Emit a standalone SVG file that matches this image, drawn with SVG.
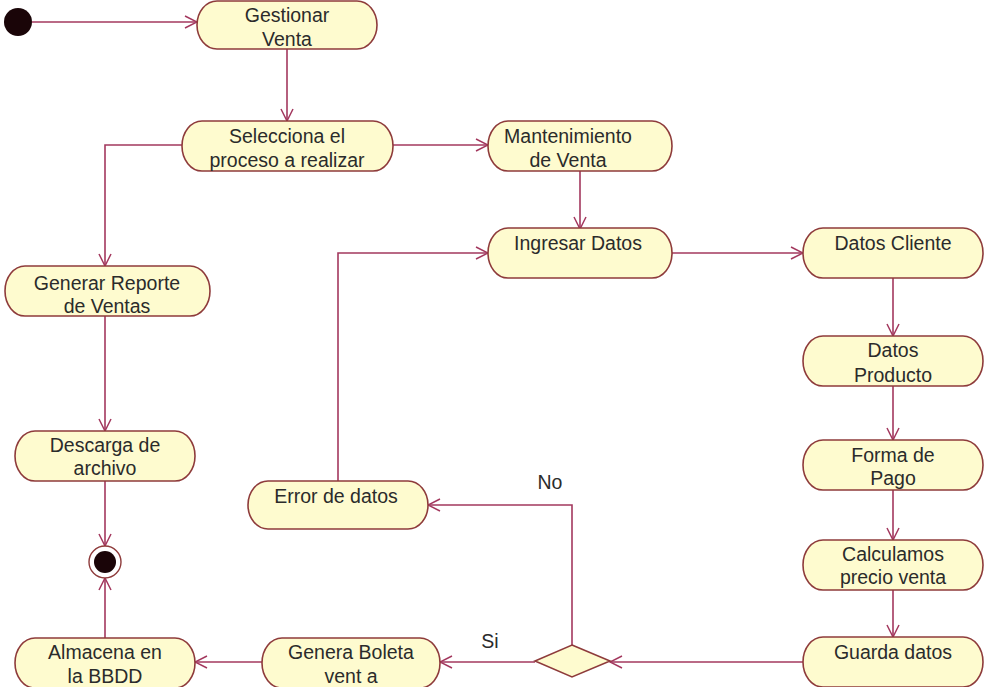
<svg xmlns="http://www.w3.org/2000/svg" width="985" height="687" viewBox="0 0 985 687">
  <style>
    .act { fill: #fefbcf; stroke: #8e3b3b; stroke-width: 1.6; }
    .lbl { font-family: "Liberation Sans", Arial, sans-serif; font-size: 19.5px; fill: #2b2b2b; text-anchor: middle; }
    .flow { fill: none; stroke: #a3385e; stroke-width: 1.6; }
  </style>
  <defs>
    <marker id="open" markerUnits="userSpaceOnUse" markerWidth="14" markerHeight="14" viewBox="0 0 14 14" refX="13" refY="7" orient="auto">
      <path d="M1,1 L13,7 L1,13" fill="none" stroke="#a3385e" stroke-width="1.5"/>
    </marker>
  </defs>
  <rect width="985" height="687" fill="#ffffff"/>

  <!-- transitions -->
  <g id="connectors">
    <path class="flow" d="M32,22 L197,22" marker-end="url(#open)"/>
    <path class="flow" d="M287,49 L287,121" marker-end="url(#open)"/>
    <path class="flow" d="M182,145 L105,145 L105,266" marker-end="url(#open)"/>
    <path class="flow" d="M393,145 L488,145" marker-end="url(#open)"/>
    <path class="flow" d="M580,171 L580,229" marker-end="url(#open)"/>
    <path class="flow" d="M672,253 L803,253" marker-end="url(#open)"/>
    <path class="flow" d="M893,278 L893,336" marker-end="url(#open)"/>
    <path class="flow" d="M893,386 L893,440" marker-end="url(#open)"/>
    <path class="flow" d="M893,490 L893,540" marker-end="url(#open)"/>
    <path class="flow" d="M893,590 L893,637" marker-end="url(#open)"/>
    <path class="flow" d="M803,662 L610,662" marker-end="url(#open)"/>
    <path class="flow" d="M572,645 L572,505 L428,505" marker-end="url(#open)"/>
    <path class="flow" d="M535,662 L440,662" marker-end="url(#open)"/>
    <path class="flow" d="M262,662 L195,662" marker-end="url(#open)"/>
    <path class="flow" d="M105,638 L105,578" marker-end="url(#open)"/>
    <path class="flow" d="M105,481 L105,546" marker-end="url(#open)"/>
    <path class="flow" d="M105,316 L105,431" marker-end="url(#open)"/>
    <path class="flow" d="M338,481 L338,253 L488,253" marker-end="url(#open)"/>
    <text class="lbl" x="550" y="489">No</text>
    <text class="lbl" x="490" y="648">Si</text>
  </g>

  <g id="start">
    <circle cx="18" cy="22" r="14" fill="#1a0508"/>
  </g>

  <g id="gestionar-venta">
    <rect class="act" x="197" y="1" width="180" height="48" rx="20" ry="24"/>
    <text class="lbl" x="287" y="22">Gestionar</text>
    <text class="lbl" x="287" y="46">Venta</text>
  </g>

  <g id="selecciona-proceso">
    <rect class="act" x="182" y="121" width="211" height="50" rx="20" ry="25"/>
    <text class="lbl" x="287" y="143">Selecciona el</text>
    <text class="lbl" x="287" y="167">proceso a realizar</text>
  </g>

  <g id="mantenimiento-venta">
    <rect class="act" x="488" y="121" width="184" height="50" rx="20" ry="25"/>
    <text class="lbl" x="568" y="143">Mantenimiento</text>
    <text class="lbl" x="568" y="167">de Venta</text>
  </g>

  <g id="ingresar-datos">
    <rect class="act" x="488" y="228" width="184" height="50" rx="20" ry="25"/>
    <text class="lbl" x="578" y="250">Ingresar Datos</text>
  </g>

  <g id="datos-cliente">
    <rect class="act" x="803" y="228" width="180" height="50" rx="20" ry="25"/>
    <text class="lbl" x="893" y="250">Datos Cliente</text>
  </g>

  <g id="datos-producto">
    <rect class="act" x="803" y="336" width="180" height="50" rx="20" ry="25"/>
    <text class="lbl" x="893" y="357">Datos</text>
    <text class="lbl" x="893" y="382">Producto</text>
  </g>

  <g id="forma-pago">
    <rect class="act" x="803" y="440" width="180" height="50" rx="20" ry="25"/>
    <text class="lbl" x="893" y="462">Forma de</text>
    <text class="lbl" x="893" y="485">Pago</text>
  </g>

  <g id="calculamos-precio">
    <rect class="act" x="803" y="540" width="180" height="50" rx="20" ry="25"/>
    <text class="lbl" x="893" y="561">Calculamos</text>
    <text class="lbl" x="893" y="584">precio venta</text>
  </g>

  <g id="guarda-datos">
    <rect class="act" x="803" y="637" width="180" height="50" rx="20" ry="25"/>
    <text class="lbl" x="893" y="659">Guarda datos</text>
  </g>

  <g id="decision">
    <polygon class="act" points="572,645 610,661 572,677 535,661"/>
  </g>

  <g id="error-datos">
    <rect class="act" x="248" y="481" width="180" height="48" rx="20" ry="24"/>
    <text class="lbl" x="336" y="503">Error de datos</text>
  </g>

  <g id="genera-boleta">
    <rect class="act" x="262" y="638" width="178" height="50" rx="20" ry="25"/>
    <text class="lbl" x="351" y="659">Genera Boleta</text>
    <text class="lbl" x="351" y="683">vent a</text>
  </g>

  <g id="almacena-bbdd">
    <rect class="act" x="15" y="638" width="180" height="50" rx="20" ry="25"/>
    <text class="lbl" x="105" y="659">Almacena en</text>
    <text class="lbl" x="105" y="683">la BBDD</text>
  </g>

  <g id="generar-reporte">
    <rect class="act" x="5" y="266" width="205" height="50" rx="20" ry="25"/>
    <text class="lbl" x="107" y="290">Generar Reporte</text>
    <text class="lbl" x="107" y="313">de Ventas</text>
  </g>

  <g id="descarga-archivo">
    <rect class="act" x="15" y="431" width="180" height="50" rx="20" ry="25"/>
    <text class="lbl" x="105" y="452">Descarga de</text>
    <text class="lbl" x="105" y="475">archivo</text>
  </g>

  <g id="end">
    <circle cx="105" cy="562" r="16" fill="#ffffff" stroke="#8e3b3b" stroke-width="1.4"/>
    <circle cx="105" cy="562" r="11" fill="#1a0508"/>
  </g>
</svg>
